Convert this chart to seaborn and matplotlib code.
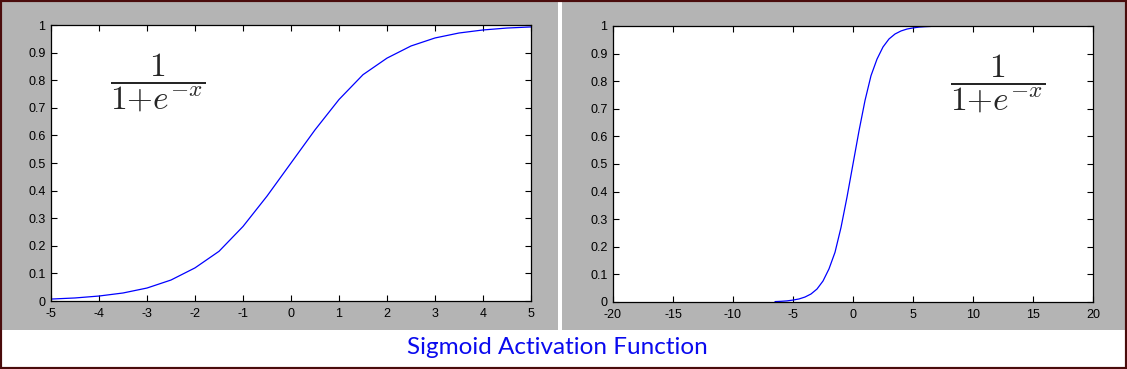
import pandas as pd
import seaborn as sns
import matplotlib.pyplot as plt
from matplotlib.patches import Rectangle

# values
x_left = [-5, -4.5, -4, -3.5, -3, -2.5, -2, -1.5, -1, -0.5, 0,
          0.5, 1, 1.5, 2, 2.5, 3, 3.5, 4, 4.5, 5]
y_left = [0.007, 0.011, 0.018, 0.029, 0.047, 0.076, 0.12, 0.18, 0.27, 0.38, 0.5,
          0.62, 0.73, 0.82, 0.88, 0.924, 0.953, 0.971, 0.982, 0.989, 0.993]

x_right = [-6.5, -6, -5.5, -5, -4.5, -4, -3.5, -3, -2.5, -2, -1.5, -1, -0.5, 0,
           0.5, 1, 1.5, 2, 2.5, 3, 3.5, 4, 4.5, 5, 5.5, 6, 6.5]
y_right = [0.0015, 0.0025, 0.004, 0.007, 0.011, 0.018, 0.029, 0.047, 0.076, 0.12, 0.18, 0.27, 0.38, 0.5,
           0.62, 0.73, 0.82, 0.88, 0.924, 0.953, 0.971, 0.982, 0.989, 0.993, 0.996, 0.9975, 0.9985]

left_xticks = [-5, -4, -3, -2, -1, 0, 1, 2, 3, 4, 5]
right_xticks = [-20, -15, -10, -5, 0, 5, 10, 15, 20]
yticks = [0, 0.1, 0.2, 0.3, 0.4, 0.5, 0.6, 0.7, 0.8, 0.9, 1]
ytick_labels = ["0", "0.1", "0.2", "0.3", "0.4", "0.5", "0.6", "0.7", "0.8", "0.9", "1"]

formula = r"$\dfrac{1}{1{+}e^{-x}}$"
caption = "Sigmoid Activation Function"

sns.set_style("ticks")
plt.rcParams["font.family"] = ["Liberation Sans", "DejaVu Sans"]
plt.rcParams["mathtext.fontset"] = "cm"

W, H = 1127, 369
fig = plt.figure(figsize=(W / 100, H / 100), dpi=100)
fig.patch.set_facecolor("white")

gray = "#b4b4b4"
# grey panels behind each plot
fig.add_artist(Rectangle((2 / W, 1 - 330 / H), 556 / W, 328 / H, transform=fig.transFigure,
                         facecolor=gray, edgecolor="none", zorder=-2))
fig.add_artist(Rectangle((562 / W, 1 - 330 / H), 563 / W, 328 / H, transform=fig.transFigure,
                         facecolor=gray, edgecolor="none", zorder=-2))
# dark outer border
fig.add_artist(Rectangle((0, 0), 1, 1, transform=fig.transFigure, fill=False,
                         edgecolor="#4a0c0c", linewidth=3, zorder=10))

ax1 = fig.add_axes([51 / W, 1 - 301 / H, 480 / W, 276 / H])
ax2 = fig.add_axes([613 / W, 1 - 302 / H, 480 / W, 276 / H])

df_left = pd.DataFrame({"x": x_left, "y": y_left})
df_right = pd.DataFrame({"x": x_right, "y": y_right})

sns.lineplot(data=df_left, x="x", y="y", ax=ax1, color="#0000ff", linewidth=0.9)
sns.lineplot(data=df_right, x="x", y="y", ax=ax2, color="#0000ff", linewidth=0.9)

for ax, xt in [(ax1, left_xticks), (ax2, right_xticks)]:
    ax.set_facecolor("white")
    ax.set_xlim(xt[0], xt[-1])
    ax.set_ylim(0, 1)
    ax.set_xticks(xt)
    ax.set_xticklabels([str(v) for v in xt])
    ax.set_yticks(yticks)
    ax.set_yticklabels(ytick_labels)
    ax.set_xlabel("")
    ax.set_ylabel("")
    for s in ax.spines.values():
        s.set_visible(True)
        s.set_color("black")
        s.set_linewidth(0.9)
    ax.tick_params(direction="in", length=4, width=0.8, top=True, right=True,
                   labelsize=9, colors="black")
    ax.tick_params(axis="x", pad=5)
    ax.tick_params(axis="y", pad=4)

ax1.text(-2.77, 0.79, formula, fontsize=24, ha="center", va="center")
ax2.text(12.1, 0.79, formula, fontsize=24, ha="center", va="center")

fig.text(0.495, 0.057, caption, ha="center", va="center", fontsize=17.5,
         color="#0a0aee", family=["Lato", "DejaVu Sans"])

fig.savefig("out.png", dpi=100)
